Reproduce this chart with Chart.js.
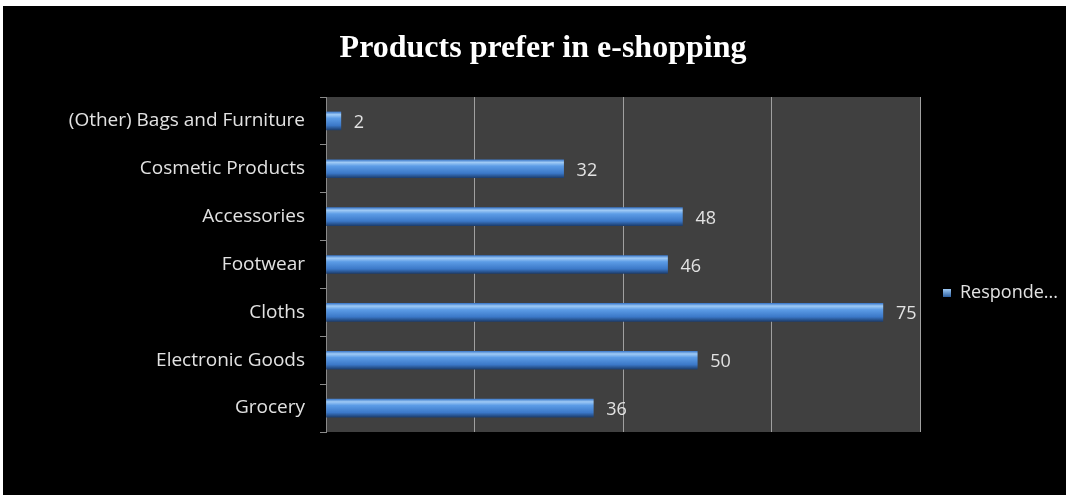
<!DOCTYPE html>
<html>
<head>
<meta charset="utf-8">
<script src="https://cdn.jsdelivr.net/npm/chart.js@4/dist/chart.umd.min.js"></script>
<style>
  body { margin: 0; background: #fff; }
  #wrap { position: absolute; left: 3px; top: 6px; width: 1063px; height: 489px; background: #000; }
</style>
</head>
<body>
<div id="wrap"><canvas id="myChart"></canvas></div>
<script>
// categories top to bottom, and number of respondents for each
let categories = ['(Other) Bags and Furniture', 'Cosmetic Products', 'Accessories', 'Footwear', 'Cloths', 'Electronic Goods', 'Grocery'];
let respondents = [2, 32, 48, 46, 75, 50, 36];
let xTicks = { min: 0, max: 80, step: 20 };
let chartTitle = 'Products prefer in e-shopping';
let seriesName = 'Responde...';

const labelFont = '"Open Sans", "Noto Sans", sans-serif';

// bar fill: light top edge, blue middle, darker bottom
function barGradient(context) {
  const chart = context.chart;
  const y = chart.scales.y;
  if (!y || context.dataIndex === undefined) return '#4a8ad8';
  const cy = y.getPixelForValue(context.dataIndex);
  if (!isFinite(cy)) return '#4a8ad8';
  const g = chart.ctx.createLinearGradient(0, cy - 9, 0, cy + 9);
  g.addColorStop(0, '#3f7ccc');
  g.addColorStop(0.15, '#9fcaf5');
  g.addColorStop(0.35, '#5c9ce6');
  g.addColorStop(0.75, '#3b78c8');
  g.addColorStop(1, '#1d3f70');
  return g;
}

// gray plot background behind the bars
const plotBackground = {
  id: 'plotBackground',
  beforeDraw(chart) {
    const { ctx, chartArea } = chart;
    ctx.save();
    ctx.fillStyle = '#404040';
    ctx.fillRect(chartArea.left, chartArea.top, chartArea.right - chartArea.left, chartArea.bottom - chartArea.top);
    ctx.restore();
  }
};

// title, centred a bit right of the plot
const topTitle = {
  id: 'topTitle',
  afterDraw(chart) {
    const ctx = chart.ctx;
    ctx.save();
    ctx.font = 'bold 32px "Liberation Serif", serif';
    ctx.fillStyle = '#ffffff';
    ctx.textAlign = 'center';
    ctx.textBaseline = 'middle';
    ctx.fillText(chartTitle, 540, 43);
    ctx.restore();
  }
};

// value printed after the end of each bar
const valueLabels = {
  id: 'valueLabels',
  afterDatasetsDraw(chart) {
    const ctx = chart.ctx;
    const meta = chart.getDatasetMeta(0);
    ctx.save();
    ctx.font = '18px ' + labelFont;
    ctx.fillStyle = '#e2e2e2';
    ctx.textBaseline = 'middle';
    meta.data.forEach((bar, i) => {
      ctx.fillText(String(respondents[i]), bar.x + 13, bar.y + 2);
    });
    ctx.restore();
  }
};

// single-entry legend on the right side
const sideLegend = {
  id: 'sideLegend',
  afterDraw(chart) {
    const ctx = chart.ctx;
    const x = 940, y = 287;
    ctx.save();
    const g = ctx.createLinearGradient(x, y - 4, x, y + 4);
    g.addColorStop(0, '#9fcaf5');
    g.addColorStop(1, '#2c5fa0');
    ctx.fillStyle = g;
    ctx.fillRect(x, y - 4, 8, 8);
    ctx.font = '18px ' + labelFont;
    ctx.fillStyle = '#e2e2e2';
    ctx.textBaseline = 'middle';
    ctx.fillText(seriesName, x + 17, y);
    ctx.restore();
  }
};

const ctx = document.getElementById('myChart').getContext('2d');
const myChart = new Chart(ctx, {
  type: 'bar',
  data: {
    labels: categories,
    datasets: [{
      label: 'Respondents',
      data: respondents,
      backgroundColor: barGradient,
      borderWidth: 0,
      barThickness: 18
    }]
  },
  options: {
    indexAxis: 'y',
    responsive: true,
    maintainAspectRatio: false,
    animation: false,
    layout: { padding: { left: 0, right: 146, top: 91, bottom: 63 } },
    plugins: {
      legend: { display: false },
      tooltip: { enabled: false },
      title: { display: false }
    },
    scales: {
      x: {
        min: xTicks.min,
        max: xTicks.max,
        ticks: { display: false, stepSize: xTicks.step },
        grid: { color: '#a0a0a0', lineWidth: 1, drawTicks: false },
        border: { display: false }
      },
      y: {
        afterFit(scale) { scale.width = 323; },
        ticks: { color: '#e2e2e2', font: { family: labelFont, size: 19 }, padding: 15 },
        grid: { drawOnChartArea: false, color: '#8a8a8a', tickLength: 6 },
        border: { display: true, color: '#8a8a8a' }
      }
    }
  },
  plugins: [plotBackground, valueLabels, sideLegend, topTitle]
});
</script>
</body>
</html>
